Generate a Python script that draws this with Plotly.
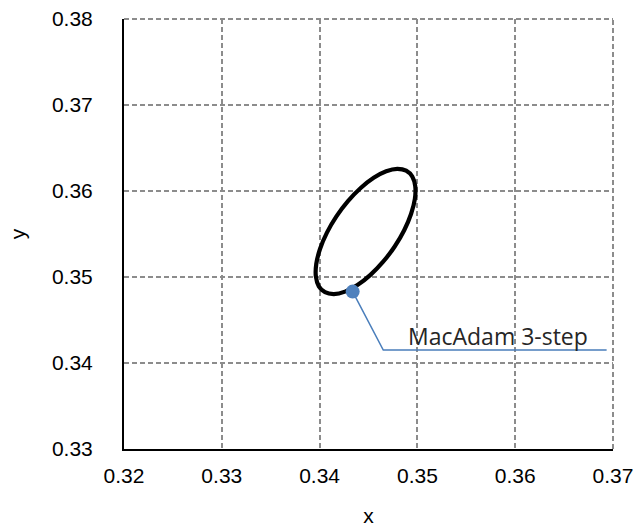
import plotly.graph_objects as go

# Ellipse outline points
ellipse_x = [0.34885, 0.34794, 0.34681, 0.34553, 0.34420, 0.34290, 0.34172, 0.34075,
             0.34005, 0.33966, 0.33962, 0.33992, 0.34055, 0.34146, 0.34260, 0.34387,
             0.34520, 0.34650, 0.34768, 0.34865, 0.34935, 0.34974, 0.34978, 0.34948,
             0.34885]
ellipse_y = [0.36237, 0.36258, 0.36230, 0.36154, 0.36035, 0.35882, 0.35705, 0.35516,
             0.35328, 0.35153, 0.35005, 0.34892, 0.34823, 0.34802, 0.34830, 0.34906,
             0.35025, 0.35178, 0.35355, 0.35544, 0.35733, 0.35907, 0.36055, 0.36168,
             0.36237]

# Labelled point and its leader line
point_x = [0.34338]
point_y = [0.34830]
leader_x = [0.34338, 0.34651, 0.36935]
leader_y = [0.34830, 0.34151, 0.34151]
label_text = "MacAdam 3-step"
label_pos = (0.35826, 0.34315)

x_ticks = [0.32, 0.33, 0.34, 0.35, 0.36, 0.37]
y_ticks = [0.33, 0.34, 0.35, 0.36, 0.37, 0.38]
eps = 1e-7

fig = go.Figure()
fig.add_trace(go.Scatter(x=ellipse_x, y=ellipse_y, mode="lines",
                         line=dict(color="black", width=4.2, shape="spline", smoothing=1.0),
                         hoverinfo="skip", showlegend=False))
fig.add_trace(go.Scatter(x=leader_x, y=leader_y, mode="lines",
                         line=dict(color="#4a7ebb", width=1.5),
                         hoverinfo="skip", showlegend=False))
fig.add_trace(go.Scatter(x=point_x, y=point_y, mode="markers",
                         marker=dict(color="#4f81bd", size=14),
                         showlegend=False))
fig.add_annotation(x=label_pos[0], y=label_pos[1], text=label_text, showarrow=False,
                   xanchor="center", yanchor="middle",
                   font=dict(family="Open Sans", size=23, color="#262626"))

# top and right frame drawn like gridlines
fig.add_shape(type="line", xref="paper", yref="paper", x0=0, x1=1, y0=1, y1=1,
              line=dict(color="#8c8c8c", width=2, dash="5px,3px"))
fig.add_shape(type="line", xref="paper", yref="paper", x0=1, x1=1, y0=0, y1=1,
              line=dict(color="#8c8c8c", width=2, dash="5px,3px"))

grid = dict(showgrid=True, gridcolor="#8c8c8c", gridwidth=1.75, griddash="5px,3px",
            showline=True, linecolor="black", linewidth=2, mirror=False, ticks="",
            zeroline=False, tickformat=".2f", automargin=False, ticklabeloverflow="allow",
            tickfont=dict(family="Liberation Sans, Arial", size=21, color="black"))

fig.update_xaxes(range=[x_ticks[0] - eps, x_ticks[-1] + eps], tickvals=x_ticks, ticklabelstandoff=7,
                 title=dict(text="x", font=dict(family="Liberation Sans, Arial", size=21, color="black"),
                            standoff=24), **grid)
fig.update_yaxes(range=[y_ticks[0] - eps, y_ticks[-1] + eps], tickvals=y_ticks, ticklabelstandoff=25,
                 title=dict(text="y", font=dict(family="Liberation Sans, Arial", size=21, color="black"),
                            standoff=21), **grid)

fig.update_layout(width=633, height=527, margin=dict(l=124, r=20, t=19, b=78),
                  plot_bgcolor="white", paper_bgcolor="white", showlegend=False)

# remove the default page margin so the figure fills the window exactly
fig.write_html("out.html",
               config={"displayModeBar": False},
               post_script="document.body.style.margin='0';"
                           "document.documentElement.style.overflow='hidden';")
